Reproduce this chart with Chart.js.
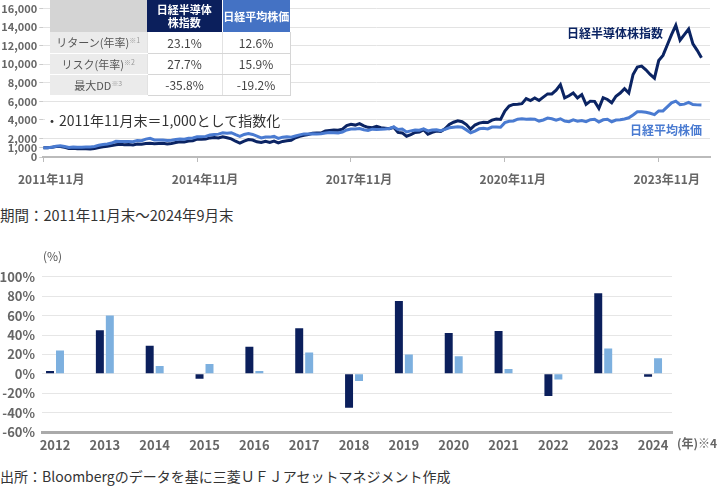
<!DOCTYPE html>
<html>
<head>
<meta charset="utf-8">
<script src="https://cdn.jsdelivr.net/npm/chart.js@4.4.1/dist/chart.umd.min.js"></script>
<style>
  html, body { margin: 0; padding: 0; background: #fff; }
  body { width: 720px; height: 488px; position: relative; overflow: hidden; font-family: 'Noto Sans CJK JP', sans-serif; color: #333; }
  .txt { position: absolute; white-space: nowrap; }
  #lineChart { position: absolute; left: 0; top: 0; }
  #barChart { position: absolute; left: 0; top: 262px; }
  #stats { position: absolute; left: 50px; top: 0; border-collapse: collapse; table-layout: fixed; }
  #stats th, #stats td { padding: 0; text-align: center; box-sizing: border-box; }
  #stats th { height: 32px; color: #fff; font-size: 11px; font-weight: bold; line-height: 13px; }
  #stats th.blank { background: #d4d4d4; width: 97px; }
  #stats th.navy { background: #0b1f5c; width: 75px; }
  #stats th.blue { background: #4472c4; width: 68px; border-left: 1px solid #fff; }
  #stats td { height: 21px; font-size: 12px; color: #444; background: #fff; border-bottom: 1px solid #d6d6d6; border-left: 1px solid #e2e2e2; }
  #stats td.lab { background: #ebebeb; font-size: 11px; color: #555; border-bottom: 1px solid #fff; border-left: none; }
  #stats td:last-child { border-right: 1px solid #d6d6d6; }
  #stats sup { font-size: 7px; vertical-align: 4px; color: #999; }
</style>
</head>
<body>
<canvas id="lineChart" width="720" height="200"></canvas>
<canvas id="barChart" width="720" height="196"></canvas>

<table id="stats">
  <tr><th class="blank"></th><th class="navy">日経半導体<br>株指数</th><th class="blue">日経平均株価</th></tr>
  <tr><td class="lab">リターン(年率)<sup>※1</sup></td><td>23.1%</td><td>12.6%</td></tr>
  <tr><td class="lab">リスク(年率)<sup>※2</sup></td><td>27.7%</td><td>15.9%</td></tr>
  <tr><td class="lab">最大DD<sup>※3</sup></td><td>-35.8%</td><td>-19.2%</td></tr>
</table>

<div class="txt" style="left:45px; top:111px; font-size:14px; line-height:18px; background:#fff; padding-right:2px;">・2011年11月末＝1,000として指数化</div>
<div class="txt" style="left:567px; top:25px; font-size:12px; line-height:16px; font-weight:bold; color:#0b2463;">日経半導体株指数</div>
<div class="txt" style="left:630px; top:122px; font-size:12px; line-height:16px; font-weight:bold; color:#4a7bd1;">日経平均株価</div>
<div class="txt" style="left:0; top:206px; font-size:14.5px; line-height:18px;">期間：2011年11月末～2024年9月末</div>
<div class="txt" style="left:43px; top:248px; font-size:12px; line-height:16px; color:#555;">(%)</div>
<div class="txt" style="left:677px; top:435px; font-size:12px; line-height:16px; font-weight:bold; color:#666;">(年)※4</div>
<div class="txt" style="left:0; top:467px; font-size:14px; line-height:18px;">出所：Bloombergのデータを基に三菱ＵＦＪアセットマネジメント作成</div>

<script>
// 指数 (2011年11月末 = 1,000)、月末値 2011/11 ～ 2024/9
const semiIndex = [
  1000, 1000, 1040, 1120, 1130, 1050, 930, 940, 880, 890, 900, 870, 920, 1030,
  1110, 1150, 1230, 1320, 1380, 1330, 1340, 1300, 1390, 1370, 1450, 1490,
  1430, 1450, 1470, 1400, 1460, 1560, 1640, 1620, 1720, 1750, 1930, 1920,
  1930, 2060, 2100, 2050, 2180, 2080, 1960, 1700, 1500, 1720, 1880, 1830,
  1640, 1560, 1700, 1580, 1720, 1520, 1680, 1760, 1800, 2080, 2230, 2340,
  2420, 2560, 2600, 2580, 2800, 2850, 2900, 2880, 3000, 3380, 3520, 3440,
  3600, 3350, 3200, 3150, 3300, 3150, 3100, 3050, 3200, 2650, 2600, 2240,
  2420, 2650, 2680, 2950, 2450, 2650, 2800, 2750, 3050, 3500, 3750, 3900,
  3800, 3500, 3000, 3450, 3650, 3750, 3720, 3980, 4100, 4050, 4960, 5500,
  5670, 5700, 5750, 6300, 6090, 6370, 6100, 6450, 6800, 6800, 7200, 7800,
  6370, 6600, 6900, 6370, 6720, 5670, 6020, 6000, 5250, 6400, 6200, 5850,
  6550, 6900, 7360, 6900, 8900, 9700, 9800, 9400, 8900, 8500, 10400, 10950,
  12070, 13200, 14200, 12600, 13200, 13800, 12200, 11500, 10700
];
const nikkeiIndex = [
  1000, 1004, 1047, 1159, 1203, 1138, 1022, 1080, 1044, 1063, 1069, 1077, 1141, 1258,
  1350, 1403, 1507, 1688, 1681, 1670, 1672, 1640, 1774, 1760, 1928, 2009,
  1841, 1835, 1835, 1774, 1818, 1886, 1947, 1924, 2021, 2055, 2190, 2191,
  2223, 2369, 2423, 2467, 2601, 2565, 2614, 2401, 2214, 2432, 2522, 2435,
  2243, 2056, 2154, 2144, 2221, 2011, 2141, 2186, 2134, 2264, 2381, 2491,
  2486, 2500, 2475, 2517, 2582, 2637, 2625, 2593, 2691, 2915, 3012, 3023,
  3073, 2941, 2862, 3002, 2972, 2991, 3027, 3074, 3249, 2958, 3018, 2708,
  2815, 2903, 2881, 3030, 2809, 2906, 2942, 2835, 2985, 3148, 3204, 3259,
  3203, 2923, 2618, 2799, 3038, 3100, 3025, 3229, 3238, 3215, 3705, 3853,
  3890, 4080, 4117, 4072, 4086, 4083, 3876, 3993, 4194, 4121, 3975, 4120,
  3871, 3809, 4001, 3865, 3933, 3812, 4022, 4070, 3764, 4010, 4069, 3803,
  3989, 4012, 4106, 4232, 4538, 4883, 4889, 4815, 4710, 4570, 4967, 4972,
  5400, 5833, 6021, 5650, 5700, 5880, 5650, 5620, 5600
];
const tickMonths = [0, 36, 72, 108, 144];
const tickLabels = ['2011年11月', '2014年11月', '2017年11月', '2020年11月', '2023年11月'];
const indexTicks = [0, 1000, 2000, 4000, 6000, 8000, 10000, 12000, 14000, 16000];

// 年間騰落率 (%)
const years = ['2012', '2013', '2014', '2015', '2016', '2017', '2018', '2019', '2020', '2021', '2022', '2023', '2024'];
const semiReturn = [3, 45, 29, -5, 28, 47, -35, 75, 42, 44, -23, 83, -3];
const nikkeiReturn = [24, 60, 8, 10, 3, 22, -7.5, 20, 18, 5, -6, 26, 16];

Chart.defaults.font.family = "'Noto Sans CJK JP', sans-serif";

const NAVY = '#0b2463';
const BLUE = '#4a7bd1';

new Chart(document.getElementById('lineChart'), {
  type: 'line',
  data: {
    datasets: [
      { label: '日経平均株価', data: nikkeiIndex.map((v, i) => ({ x: i, y: v })), borderColor: BLUE, borderWidth: 3, pointRadius: 0, tension: 0 },
      { label: '日経半導体株指数', data: semiIndex.map((v, i) => ({ x: i, y: v })), borderColor: NAVY, borderWidth: 3, pointRadius: 0, tension: 0 }
    ]
  },
  options: {
    responsive: false,
    animation: false,
    layout: { padding: { top: 5, right: 10, left: 0, bottom: 0 } },
    plugins: { legend: { display: false }, tooltip: { enabled: false } },
    scales: {
      x: {
        type: 'linear', min: 0, max: 156,
        afterBuildTicks: s => { s.ticks = tickMonths.map(v => ({ value: v })); },
        afterFit: s => { s.height = 43; },
        grid: { drawOnChartArea: false, drawTicks: true, tickLength: 5, color: '#bbb' },
        border: { color: '#bbb', width: 2 },
        ticks: {
          callback: v => tickLabels[tickMonths.indexOf(v)],
          font: { size: 12, weight: 'bold' }, color: '#666',
          padding: 10, maxRotation: 0, autoSkip: false, labelOffset: 8
        }
      },
      y: {
        min: 0, max: 16000,
        afterBuildTicks: s => { s.ticks = indexTicks.map(v => ({ value: v })); },
        afterFit: s => { s.width = 41.5; },
        grid: { color: c => (c.tick && c.tick.value === 1000) ? 'rgba(0,0,0,0)' : '#e3e3e3', tickColor: '#ccc', tickLength: 4 },
        border: { display: false },
        ticks: { callback: v => v.toLocaleString('en-US'), font: { size: 11, weight: 'bold' }, color: '#666', padding: 2, autoSkip: false }
      }
    }
  }
});

new Chart(document.getElementById('barChart'), {
  type: 'bar',
  data: {
    datasets: [
      { label: '日経半導体株指数', data: semiReturn.map((v, i) => ({ x: i, y: v })), backgroundColor: '#0b1f5c' },
      { label: '日経平均株価', data: nikkeiReturn.map((v, i) => ({ x: i, y: v })), backgroundColor: '#7db0df' }
    ]
  },
  options: {
    responsive: false,
    animation: false,
    categoryPercentage: 0.4,
    barPercentage: 0.8,
    layout: { padding: { top: 10.7, right: 48, left: 0, bottom: 0 } },
    plugins: { legend: { display: false }, tooltip: { enabled: false } },
    scales: {
      x: {
        type: 'linear', min: -0.261, max: 12.38, offset: false,
        afterBuildTicks: s => { s.ticks = years.map((y, i) => ({ value: i })); },
        afterFit: s => { s.height = 26; },
        grid: { drawOnChartArea: false, drawTicks: false },
        border: { display: true, color: '#aaa', width: 3 },
        ticks: { callback: v => years[v], font: { size: 13, weight: 'bold' }, color: '#666', padding: 5, maxRotation: 0, autoSkip: false }
      },
      y: {
        min: -60, max: 100,
        afterFit: s => { s.width = 42; },
        grid: { color: '#e6e6e6', drawTicks: false },
        border: { display: false },
        ticks: { stepSize: 20, callback: v => v + '%', font: { size: 13, weight: 'bold' }, color: '#666', padding: 7 }
      }
    }
  }
});
</script>
</body>
</html>
